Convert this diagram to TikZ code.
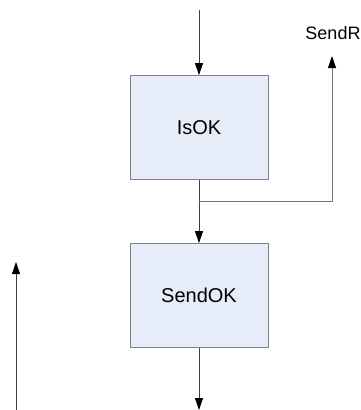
\documentclass[tikz,border=0pt]{standalone}
\usepackage{fontspec}
\setmainfont{Liberation Sans}
\usetikzlibrary{arrows.meta}
\begin{document}
\begin{tikzpicture}[x=1pt,y=-1pt,
  block/.style={draw=black!50,fill={rgb,255:red,230;green,236;blue,248},
    minimum width=138pt,minimum height=104pt,inner sep=0pt,line width=0.8pt,
    font=\fontsize{20}{24}\selectfont},
  flow/.style={draw=black!75,line width=0.8pt,-{Triangle[length=12pt,width=8pt,color=black]}},
  tap/.style={draw=black!55,line width=0.8pt,-{Triangle[length=12pt,width=8pt,color=black]}}]
  \useasboundingbox (0,0) rectangle (360,410);
  \node[block] (isok) at (199,127.5) {IsOK};
  \node[block] (sendok) at (199,295.5) {SendOK};
  \node[font=\fontsize{18}{22}\selectfont,inner sep=0pt] (sendr) at (333,33) {SendR};
  \coordinate (in) at (199,10);
  \coordinate (split) at (199,201);
  \coordinate (corner) at (332,201);
  \coordinate (rtip) at (332,56);
  \coordinate (out) at (199,410);
  \coordinate (lbase) at (16,410);
  \coordinate (ltip) at (16,262);
  \draw[flow] (in) -- (isok.north);
  \draw[flow] (isok.south) -- (sendok.north);
  \draw[tap] (split) -- (corner) -- (rtip);
  \draw[flow] (sendok.south) -- (out);
  \draw[flow] (lbase) -- (ltip);
\end{tikzpicture}
\end{document}
